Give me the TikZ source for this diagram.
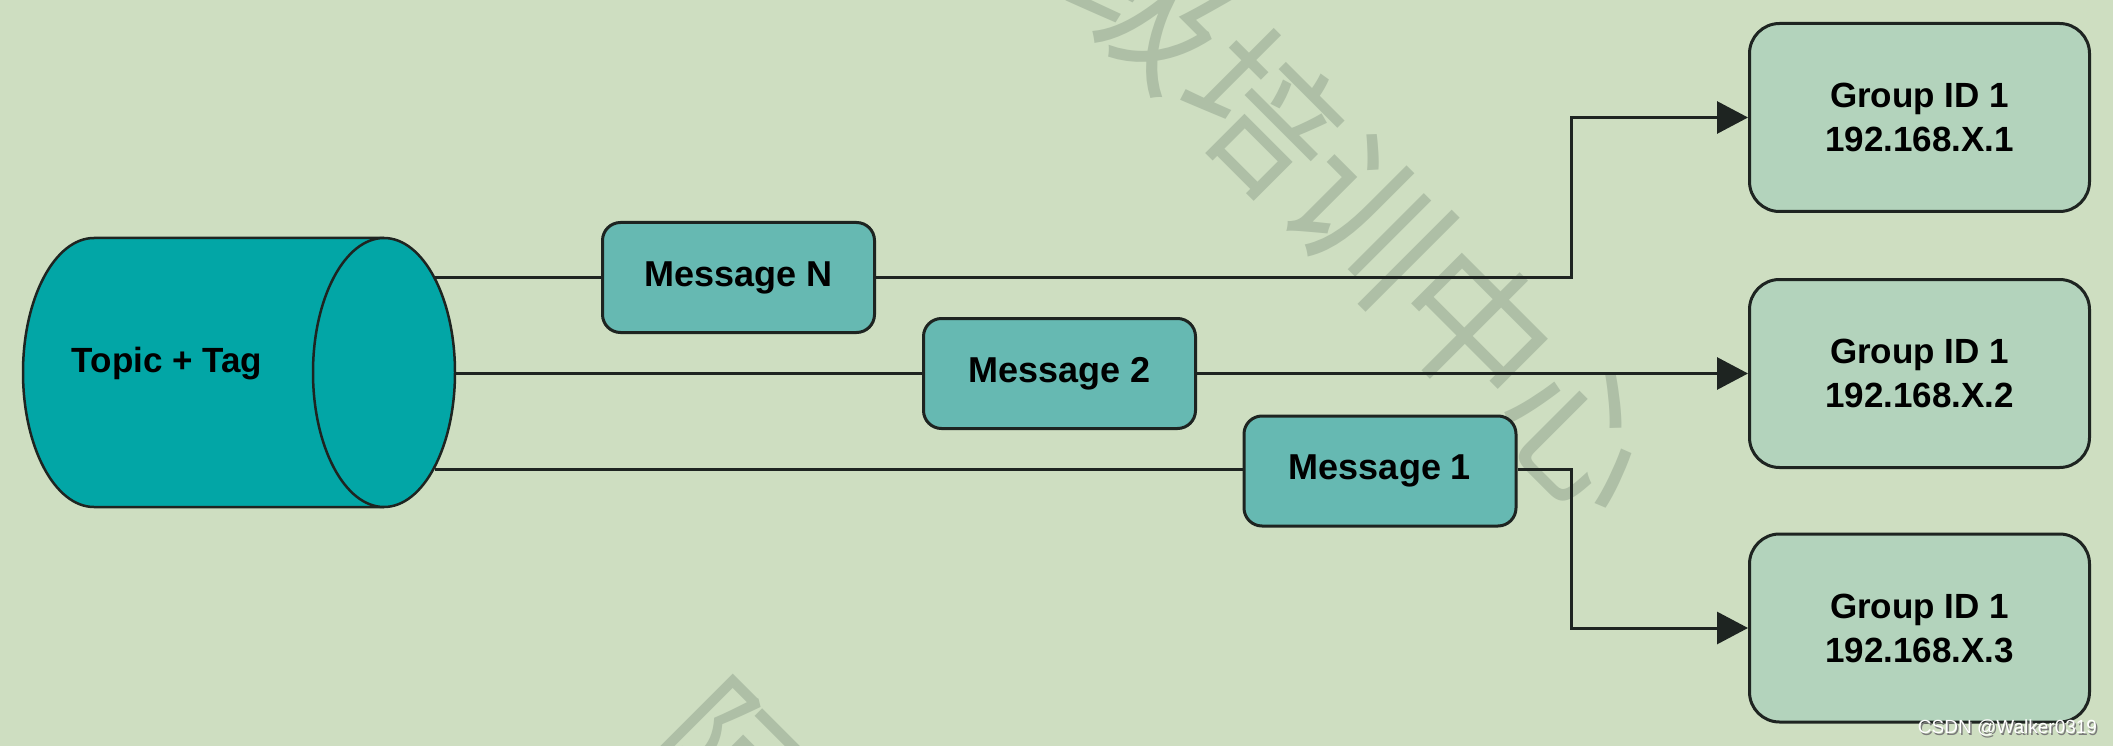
\documentclass[tikz,border=0pt]{standalone}
\usepackage{fontspec}
\setmainfont{Liberation Sans}
\newfontfamily\cjkwm{Noto Sans CJK SC}
\usetikzlibrary{arrows.meta,calc}
\definecolor{bgc}{HTML}{CEDEC1}
\definecolor{cylc}{HTML}{02A6A6}
\definecolor{msgc}{HTML}{66B9B2}
\definecolor{grpc}{HTML}{B3D3BC}
\definecolor{linec}{HTML}{1E2421}
\definecolor{wmc}{HTML}{AEBFA6}
\definecolor{shadowc}{HTML}{7A7A7A}
\begin{document}
\begin{tikzpicture}[x=1pt,y=-1pt,
  conn/.style={draw=linec,line width=3pt},
  arr/.style={conn,-{Triangle[length=31pt,width=32pt]}},
  msgbox/.style={draw=linec,line width=3pt,fill=msgc,rounded corners=18pt,minimum width=272pt,minimum height=110pt,inner sep=0pt,font=\fontsize{36}{40}\selectfont\bfseries},
  grpbox/.style={draw=linec,line width=3pt,fill=grpc,rounded corners=30pt,minimum width=340pt,minimum height=188pt,inner sep=0pt,align=center,font=\fontsize{35}{44}\selectfont\bfseries},
  wm/.style={text=wmc,font=\fontsize{151}{151}\selectfont\cjkwm,rotate=-45,inner sep=0pt}
]
\clip (0,0) rectangle (2113,746);
\fill[bgc] (0,0) rectangle (2113,746);
% watermark
\node[wm] (wm1) at (1369,219) {级培训中心};
\node[wm] (wm2) at (731,765) {阿};
% cylinder
\fill[cylc] (94,238) -- (384,238) -- (384,507) -- (94,507) arc[start angle=90,end angle=270,x radius=71,y radius=134.5] -- cycle;
\draw[conn,line width=2.5pt] (384,238) -- (94,238) arc[start angle=270,end angle=90,x radius=71,y radius=134.5] -- (384,507);
\draw[conn,line width=2.5pt,fill=cylc] (384,372.5) ellipse[x radius=71,y radius=134.5];
\node[font=\fontsize{35}{40}\selectfont\bfseries,anchor=base,inner sep=0pt] (topic) at (167,372) {Topic + Tag};
% start points on the cylinder face
\coordinate (s1) at (434.5,277.5);
\coordinate (s2) at (455,373.5);
\coordinate (s3) at (434.5,469);
% messages
\node[msgbox] (mN) at (738.5,277.5) {Message N};
\node[msgbox] (m2) at (1059.5,373.5) {Message 2};
\node[msgbox] (m1) at (1380,471) {Message 1};
% groups
\node[grpbox] (g1) at (1919.5,117.5) {Group ID 1\\192.168.X.1};
\node[grpbox] (g2) at (1919.5,373.5) {Group ID 1\\192.168.X.2};
\node[grpbox] (g3) at (1919.5,628) {Group ID 1\\192.168.X.3};
\coordinate (j1) at (1571,200);
\coordinate (j3) at (1571,550);
% connectors
\draw[conn] (s1) -- (mN.west);
\draw[arr] (mN.east) -| (j1) |- (g1.west);
\draw[conn] (s2) -- (m2.west);
\draw[arr] (m2.east) -- (g2.west);
\draw[conn] (s3) -- (s3 -| m1.west);
\draw[arr] (s3 -| m1.east) -| (j3) |- (g3.west);
% credit
\node[font=\fontsize{19}{19}\selectfont,text=shadowc,inner sep=0pt] at (2009,729.5) {CSDN @Walker0319};
\node[font=\fontsize{19}{19}\selectfont,text=white,inner sep=0pt] (csdn) at (2007.5,728) {CSDN @Walker0319};
\end{tikzpicture}
\end{document}
